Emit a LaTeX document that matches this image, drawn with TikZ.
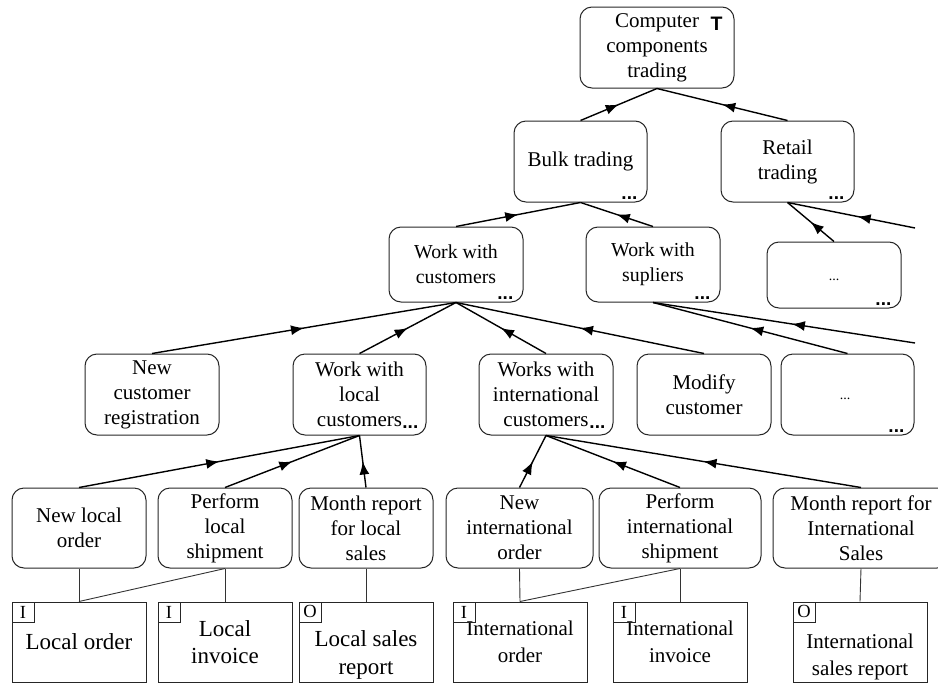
\documentclass[tikz,border=0pt]{standalone}
\usepackage{fontspec}
\setmainfont{Liberation Serif}
\setsansfont{Liberation Sans}
\usetikzlibrary{arrows.meta,decorations.markings}

% type sizes (1pt = 1 unit of the drawing)
\newcommand\actfont{\fontsize{21}{25}\selectfont}
\newcommand\actsmall{\fontsize{19.8}{25}\selectfont}
\newcommand\docfont{\fontsize{23}{27.5}\selectfont}
\newcommand\docsmall{\fontsize{21}{27.5}\selectfont}
\newcommand\morefont{\sffamily\bfseries\fontsize{19}{19}\selectfont}

\tikzset{
  actbox/.style 2 args={draw=black!85, line width=1pt, rounded corners=12pt,
    align=center, inner sep=0pt, minimum width=#1pt, minimum height=#2pt, font=\actfont},
  docbox/.style 2 args={draw=black!85, line width=1pt,
    align=center, inner sep=0pt, minimum width=#1pt, minimum height=#2pt, font=\docfont},
  doctext/.style={align=center, inner sep=0pt},
  iotag/.style={draw=black!85, line width=0.9pt, inner sep=0pt, minimum width=22pt,
    minimum height=20pt, font=\fontsize{18.5}{18.5}\selectfont, anchor=north west},
  moredots/.style={font=\morefont, inner sep=0pt, anchor=base east},
  elided/.style={font=\fontsize{14}{14}\selectfont, inner sep=0pt},
  relline/.style={draw=black, line width=1.4pt},
  midtip/.style={postaction={decorate}, decoration={markings,
    mark=at position #1 with {\arrow{Latex[length=13pt,width=10pt]}}}},
  doclink/.style={draw=black!80, line width=0.9pt},
}

\begin{document}
\begin{tikzpicture}[x=1pt,y=-1pt]
\useasboundingbox (0,0) rectangle (938,683);
\clip (0,0) rectangle (938,683);

% ---- level 0
\node[actbox={154}{81}] (top) at (657,47.5) {Computer\\components\\trading};
\node[font=\sffamily\bfseries\fontsize{19.5}{19.5}\selectfont, inner sep=0pt]
  (topmark) at ([xshift=-18pt,yshift=-17pt]top.north east) {T};

% ---- level 1
\node[actbox={133}{81}] (bulk) at (580.5,161.5) {Bulk trading};
\node[actbox={133}{81}] (retail) at (787.5,161.5) {Retail\\trading};

% ---- level 2
\node[actbox={134}{75}, font=\actsmall] (wwc) at (456,264.5) {Work with\\customers};
\node[actbox={134}{75}, font=\actsmall] (wws) at (653,264.5) {Work with\\supliers};
\node[actbox={134}{66}] (more2) at (834,275) {};
\node[elided] (more2text) at (834,280) {...};

% ---- level 3
\node[actbox={134}{81}] (ncr) at (152,394.5) {New\\customer\\registration};
\node[actbox={133}{81}] (wwlc) at (359.5,394.5) {Work with\\local\\customers};
\node[actbox={134}{81}] (wwic) at (546,394.5) {Works with\\international\\customers};
\node[actbox={134}{81}] (modify) at (704,394.5) {Modify\\customer};
\node[actbox={133}{81}] (more3) at (847.5,394.5) {};
\node[elided] (more3text) at (845,399) {...};

% ---- level 4
\node[actbox={134}{80}] (nlo) at (79,528) {New local\\order};
\node[actbox={134}{80}] (pls) at (225,528) {Perform\\local\\shipment};
\node[actbox={134}{80}] (mrls) at (366,528) {Month report\\for local\\sales};
\node[actbox={147}{80}] (nio) at (519.5,528) {New\\international\\order};
\node[actbox={162}{80}] (pis) at (680,528) {Perform\\international\\shipment};
\node[actbox={176}{80}] (mris) at (861,528) {Month report for\\International\\Sales};

% ---- documents
\node[docbox={134}{80}] (lo) at (79,642) {Local order};
\node[docbox={134}{80}] (li) at (225,642) {Local\\invoice};
\node[docbox={134}{80}] (lsr) at (366,642) {};
\node[doctext, font=\docfont] (lsrtext) at (366,655) {Local sales\\report};
\node[docbox={134}{80}, font=\docsmall] (io) at (520,642) {International\\order};
\node[docbox={134}{80}, font=\docsmall] (ii) at (680,642) {International\\invoice};
\node[docbox={134}{80}] (isr) at (860,642) {};
\node[doctext, font=\docsmall] (isrtext) at (860,657) {International\\sales report};

\node[iotag] (lotag) at (lo.north west) {I};
\node[iotag] (litag) at (li.north west) {I};
\node[iotag] (lsrtag) at (lsr.north west) {O};
\node[iotag] (iotag) at (io.north west) {I};
\node[iotag] (iitag) at (ii.north west) {I};
\node[iotag] (isrtag) at (isr.north west) {O};

% ---- "more below" marks
\foreach \n in {bulk,retail,wwc,wws,more2,more3}
  \node[moredots] (\n dots) at ([xshift=-10pt,yshift=3.5pt]\n.south east) {...};
\node[moredots] (wwlcdots) at ([xshift=-8pt,yshift=7pt]wwlc.south east) {...};
\node[moredots] (wwicdots) at ([xshift=-8pt,yshift=7pt]wwic.south east) {...};

% ---- decomposition links (child -> parent)
\draw[relline, midtip=0.5] (bulk.north) -- (top.south);
\draw[relline, midtip=0.5] (retail.north) -- (top.south);

\draw[relline, midtip=0.5] (wwc.north) -- (bulk.south);
\draw[relline, midtip=0.5] (wws.north) -- (bulk.south);
\draw[relline, midtip=0.5] (more2.north) -- (retail.south);
\coordinate (offA) at (915,228);
\draw[relline, midtip=0.45] (offA) -- (retail.south);

\draw[relline, midtip=0.5] (ncr.north) -- (wwc.south);
\draw[relline, midtip=0.5] (wwlc.north) -- (wwc.south);
\draw[relline, midtip=0.5] (wwic.north) -- (wwc.south);
\draw[relline, midtip=0.5] (modify.north) -- (wwc.south);
\draw[relline, midtip=0.5] (more3.north) -- (wws.south);
\coordinate (offB) at (915,343);
\draw[relline, midtip=0.47] (offB) -- (wws.south);

\draw[relline, midtip=0.5] (nlo.north) -- (wwlc.south);
\draw[relline, midtip=0.5] (pls.north) -- (wwlc.south);
\draw[relline, midtip=0.5] (mrls.north) -- (wwlc.south);
\draw[relline, midtip=0.5] (nio.north) -- (wwic.south);
\draw[relline, midtip=0.5] (pis.north) -- (wwic.south);
\draw[relline, midtip=0.5] (mris.north) -- (wwic.south);

% ---- document links
\draw[doclink] (nlo.south) -- (lo.north);
\draw[doclink] (pls.south) -- (lo.north);
\draw[doclink] (pls.south) -- (li.north);
\draw[doclink] (mrls.south) -- (lsr.north);
\draw[doclink] (nio.south) -- (io.north);
\draw[doclink] (pis.south) -- (io.north);
\draw[doclink] (pis.south) -- (ii.north);
\draw[doclink] (mris.south) -- (isr.north);
\end{tikzpicture}
\end{document}
